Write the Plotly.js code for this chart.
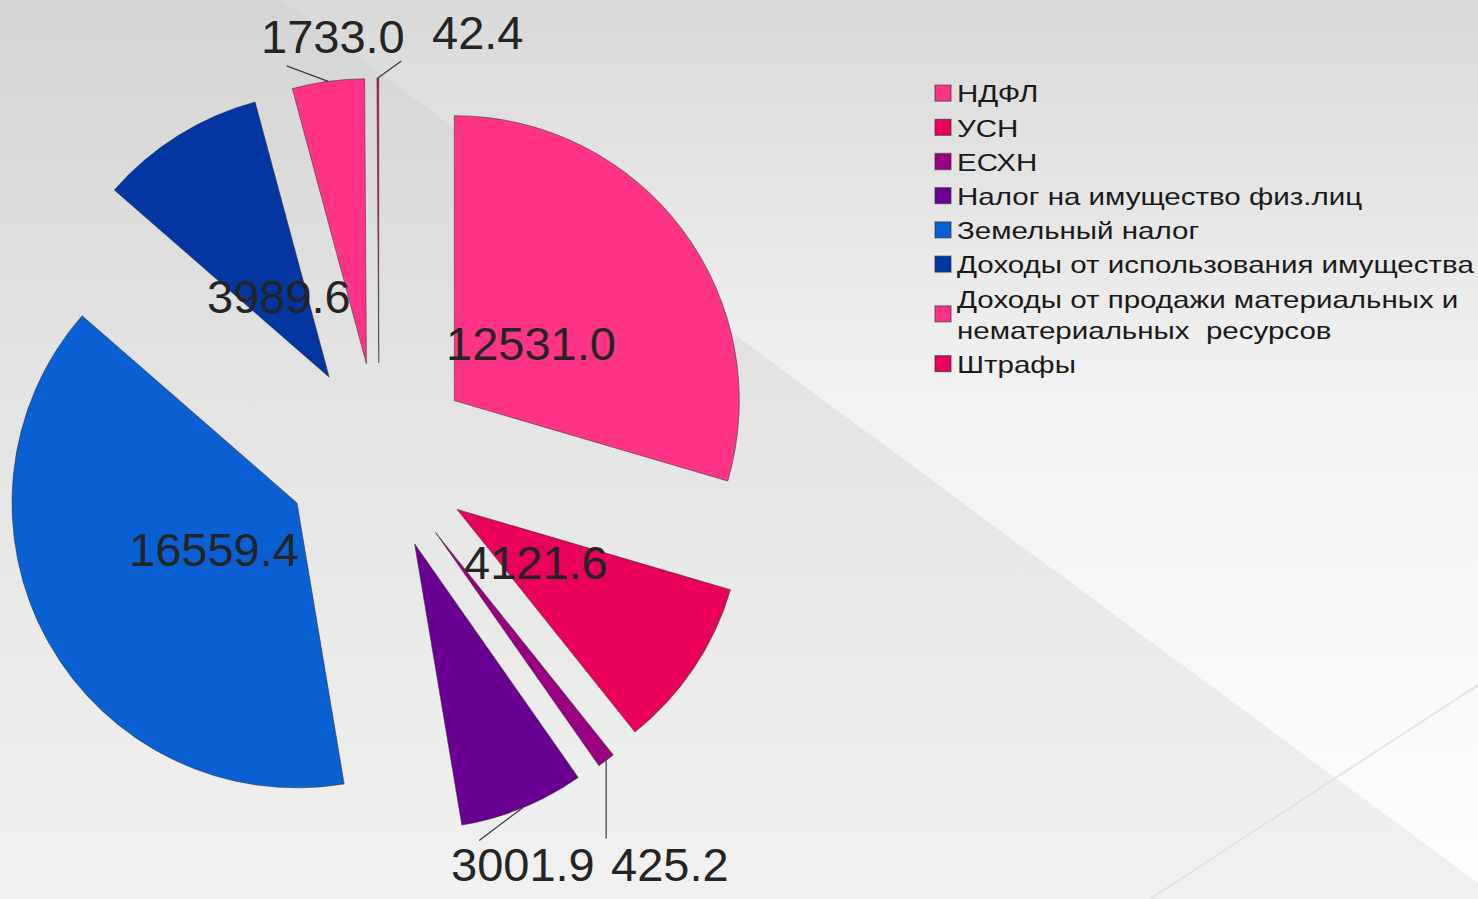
<!DOCTYPE html>
<html>
<head>
<meta charset="utf-8">
<script src="https://cdn.plot.ly/plotly-3.0.1.min.js"></script>
<style>
  html, body { margin: 0; padding: 0; width: 1478px; height: 899px; overflow: hidden; }
  #bg1 { position: absolute; left: 0; top: 0; width: 1478px; height: 899px;
         background: linear-gradient(to bottom, #d5d5d5 0%, #e4e4e4 45%, #f1f1f1 100%); }
  #bg2 { position: absolute; left: 0; top: 0; width: 1478px; height: 899px;
         clip-path: polygon(281px 0px, 1478px 0px, 1478px 883px);
         background: linear-gradient(to bottom, #d9d9d9 0%, #f2f2f2 45%, #fefefe 100%); }
  #chart { position: absolute; left: 0; top: 0; width: 1478px; height: 899px; }
  #chart .legend .scrollbox { clip-path: none !important; }
  #chart .legendtext { transform: scaleX(1.23); transform-origin: 40px 0px; }
  #chart path.legendpie { transform: translate(26px, 0px) scale(1.33); }
</style>
</head>
<body>
<div id="bg1"></div>
<div id="bg2"></div>
<div id="chart"></div>
<script>
// Categories (legend labels)
var categories = [
  "НДФЛ",
  "УСН",
  "ЕСХН",
  "Налог на имущество физ.лиц",
  "Земельный налог",
  "Доходы от использования имущества",
  "Доходы от продажи материальных и<br>нематериальных  ресурсов",
  "Штрафы"
];
// Values
var values = [12531.0, 4121.6, 425.2, 3001.9, 16559.4, 3989.6, 1733.0, 42.4];
// Slice colours
var colors = ["#ff3388", "#e8005a", "#99007f", "#690092", "#0a5fd2", "#0336a0", "#ff3388", "#e8005a"];
// Label style per slice: inside the slice or outside with a leader line
var labelInside = [true, true, false, false, true, true, false, false];
// Pixel offsets (layout only) for outside labels, relative to the slice's outer edge
var textOffsetX = [0, 0, 64, 0, 0, 0, 5, 100];
var textOffsetY = [0, 0, 104, 57, 0, 0, -45, -45];
var leaderOffsetX = [0, 0, 0, -45, 0, 0, -43, 25];
var leaderOffsetY = [0, 0, 80, 34, 0, 0, -16, -18];

var W = 1478, H = 899;
var PULL = 0.33;
var domX = [0, 0.5129], domY = [0.0701, 0.9133];

var trace = {
  type: "pie",
  labels: categories,
  values: values,
  sort: false,
  direction: "clockwise",
  rotation: 0,
  pull: PULL,
  marker: { colors: colors, line: { color: "rgba(50,50,50,0.55)", width: 1 } },
  textinfo: "none",
  domain: { x: domX, y: domY },
  hoverinfo: "label+value",
  showlegend: true
};

// Value labels, positioned from the data (slice mid-angles) and the pie geometry
var total = values.reduce(function (a, b) { return a + b; }, 0);
var wPx = W * (domX[1] - domX[0]), hPx = H * (domY[1] - domY[0]);
var rPx = Math.min(wPx, hPx) / (2 * (1 + PULL));
var cxPx = W * (domX[0] + domX[1]) / 2;
var cyPx = H * (1 - (domY[0] + domY[1]) / 2);
var annotations = [];
var cum = 0;
for (var i = 0; i < values.length; i++) {
  var mid = (cum + values[i] / 2) / total * 2 * Math.PI;
  cum += values[i];
  var dx = Math.sin(mid), dy = -Math.cos(mid);
  var txt = values[i].toFixed(1);
  var font = { family: "Liberation Sans, Arial, sans-serif", size: 47, color: "#242424" };
  if (labelInside[i]) {
    var d = (PULL + 0.335) * rPx;
    annotations.push({
      xref: "paper", yref: "paper",
      x: (cxPx + d * dx) / W, y: 1 - (cyPx + d * dy) / H,
      text: txt, showarrow: false, font: font,
      xanchor: "center", yanchor: "middle"
    });
  } else {
    var d2 = (1 + PULL) * rPx;
    var hx = cxPx + d2 * dx, hy = cyPx + d2 * dy;
    // value text
    annotations.push({
      xref: "paper", yref: "paper",
      x: (hx + textOffsetX[i]) / W, y: 1 - (hy + textOffsetY[i]) / H,
      text: txt, showarrow: false, font: font,
      xanchor: "center", yanchor: "middle"
    });
    // leader line from the slice edge
    annotations.push({
      xref: "paper", yref: "paper",
      x: hx / W, y: 1 - hy / H,
      text: " ", showarrow: true, arrowhead: 0, arrowwidth: 1.2, arrowcolor: "#3a3a3a",
      ax: leaderOffsetX[i], ay: leaderOffsetY[i], standoff: 0, startstandoff: 0,
      font: { size: 1 }
    });
  }
}

var layout = {
  width: W,
  height: H,
  margin: { l: 0, r: 0, t: 0, b: 0 },
  paper_bgcolor: "rgba(0,0,0,0)",
  plot_bgcolor: "rgba(0,0,0,0)",
  font: { family: "Liberation Sans, Arial, sans-serif", color: "#1a1a1a" },
  showlegend: true,
  legend: {
    x: 917 / W, y: 1 - 71 / H, xanchor: "left", yanchor: "top",
    bgcolor: "rgba(0,0,0,0)",
    font: { size: 24, color: "#1a1a1a", family: "Liberation Sans, Arial, sans-serif" },
    tracegroupgap: 0
  },
  annotations: annotations,
  shapes: [
    { type: "line", xref: "paper", yref: "paper", x0: 1, y0: 1 - 685 / H, x1: 1150 / W, y1: 0,
      line: { color: "rgba(225,225,225,0.9)", width: 2 } }
  ]
};

Plotly.newPlot("chart", [trace], layout, { displayModeBar: false, staticPlot: true });
</script>
</body>
</html>
